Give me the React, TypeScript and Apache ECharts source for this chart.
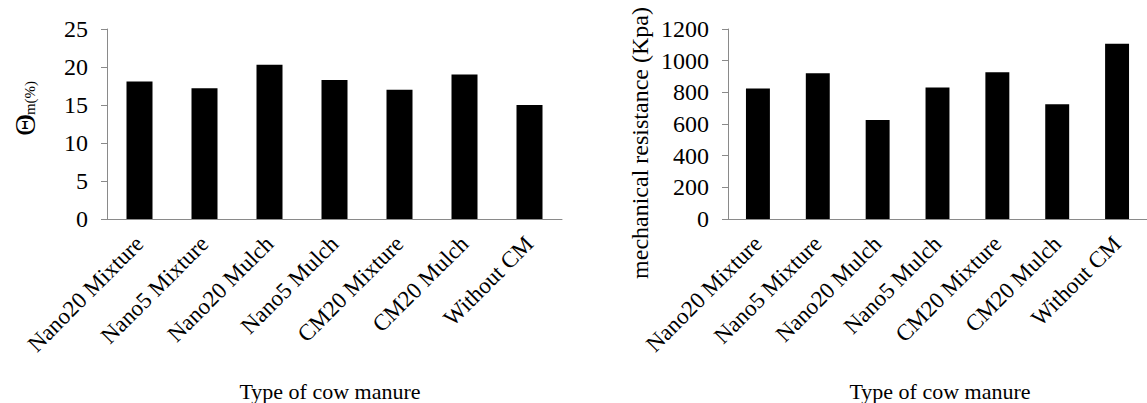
import React, { useEffect, useRef } from "react";
import * as echarts from "echarts";

const categories = [
  "Nano20 Mixture",
  "Nano5 Mixture",
  "Nano20 Mulch",
  "Nano5 Mulch",
  "CM20 Mixture",
  "CM20 Mulch",
  "Without CM",
];
const moistureValues = [18.1, 17.2, 20.3, 18.3, 17.0, 19.0, 15.0];
const resistanceValues = [825, 920, 625, 830, 927, 725, 1107];
const xAxisTitle = "Type of cow manure";
const rightYTitle = "mechanical resistance (Kpa)";

const FONT = "'Times New Roman', 'Liberation Serif', serif";
const AXIS_GRAY = "#8a8a8a";

export default function App() {
  const ref = useRef<HTMLDivElement>(null);
  useEffect(() => {
    document.body.style.margin = "0";
    const chart = echarts.init(ref.current!, undefined, { renderer: "svg" });
    const xAxisCommon = {
      type: "category" as const,
      data: categories,
      axisLine: { lineStyle: { color: AXIS_GRAY, width: 1 } },
      axisTick: { alignWithLabel: true, length: 6, lineStyle: { color: AXIS_GRAY } },
      axisLabel: {
        rotate: 45,
        interval: 0,
        margin: 21,
        fontSize: 23,
        fontFamily: FONT,
        color: "#000",
      },
    };
    const yAxisCommon = {
      type: "value" as const,
      min: 0,
      axisLine: { show: true, lineStyle: { color: AXIS_GRAY, width: 1 } },
      axisTick: { show: true, length: 6, lineStyle: { color: AXIS_GRAY } },
      splitLine: { show: false },
      axisLabel: {
        fontSize: 24,
        fontFamily: FONT,
        color: "#000",
        margin: 19,
        formatter: (v: number) => String(v),
      },
    };
    chart.setOption({
      animation: false,
      grid: [
        { left: 107, top: 29, width: 455, height: 190 },
        { left: 728, top: 29, width: 430.5, height: 190 },
      ],
      xAxis: [
        { ...xAxisCommon, gridIndex: 0 },
        { ...xAxisCommon, gridIndex: 1 },
      ],
      yAxis: [
        { ...yAxisCommon, gridIndex: 0, max: 25, interval: 5 },
        { ...yAxisCommon, gridIndex: 1, max: 1200, interval: 200 },
      ],
      series: [
        {
          type: "bar",
          xAxisIndex: 0,
          yAxisIndex: 0,
          data: moistureValues,
          barWidth: "40%",
          itemStyle: { color: "#000" },
        },
        {
          type: "bar",
          xAxisIndex: 1,
          yAxisIndex: 1,
          data: resistanceValues,
          barWidth: "40%",
          itemStyle: { color: "#000" },
        },
      ],
      graphic: [
        {
          type: "text",
          x: 24,
          y: 125,
          rotation: Math.PI / 2,
          style: {
            text: "\u0398",
            fontSize: 30,
            fontFamily: FONT,
            fill: "#000",
            align: "center",
            verticalAlign: "middle",
          },
        },
        {
          type: "text",
          x: 30,
          y: 98,
          rotation: Math.PI / 2,
          style: {
            text: "m(%)",
            fontSize: 15,
            fontFamily: FONT,
            fill: "#000",
            align: "center",
            verticalAlign: "middle",
          },
        },
        {
          type: "text",
          x: 640,
          y: 143,
          rotation: Math.PI / 2,
          style: {
            text: rightYTitle,
            fontSize: 24,
            fontFamily: FONT,
            fill: "#000",
            align: "center",
            verticalAlign: "middle",
          },
        },
        {
          type: "text",
          x: 330,
          y: 391,
          style: {
            text: xAxisTitle,
            fontSize: 22,
            fontFamily: FONT,
            fill: "#000",
            align: "center",
            verticalAlign: "middle",
          },
        },
        {
          type: "text",
          x: 940,
          y: 391,
          style: {
            text: xAxisTitle,
            fontSize: 22,
            fontFamily: FONT,
            fill: "#000",
            align: "center",
            verticalAlign: "middle",
          },
        },
      ],
    });
    return () => chart.dispose();
  }, []);
  return <div ref={ref} style={{ width: 1147, height: 403 }} />;
}
